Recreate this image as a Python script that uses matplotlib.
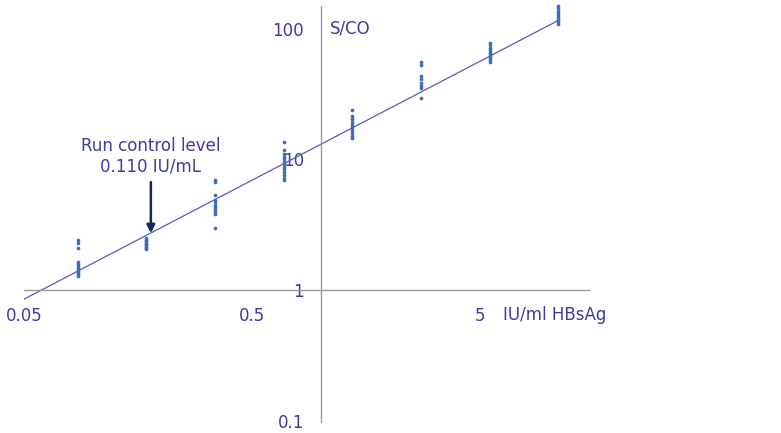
import matplotlib.pyplot as plt
from matplotlib.ticker import NullLocator, FixedLocator

# Data: HBsAg dilution groups (IU/ml) and measured S/CO values
conc = [0.086, 0.172, 0.344, 0.688, 1.375, 2.75, 5.5, 11.0]
sco = [
    [2.42, 2.30, 2.10, 1.65, 1.58, 1.52, 1.48, 1.44, 1.40, 1.36, 1.32, 1.27],
    [2.50, 2.42, 2.36, 2.30, 2.25, 2.20, 2.15, 2.10, 2.05],
    [7.0, 6.7, 5.3, 4.9, 4.7, 4.5, 4.3, 4.2, 4.0, 3.9, 3.8, 3.0],
    [13.6, 11.8, 11.0, 10.5, 10.0, 9.6, 9.2, 8.8, 8.4, 8.0, 7.6, 7.2, 6.9],
    [23.9, 21.5, 20.4, 19.4, 18.5, 17.6, 16.8, 16.0, 15.2, 14.5],
    [55.9, 53.0, 43.6, 41.0, 38.6, 36.5, 35.0, 29.6],
    [78, 75, 72, 69, 66, 64, 62, 60, 58, 56],
    [150, 144, 138, 133, 128, 124, 120, 116, 112, 109],
]
fit_x = [0.05, 11.0]
fit_y = [0.85, 116]
control_x = 0.18
control_y = [6.7, 2.72]

x_ticks = [0.05, 0.5, 5]
x_labels = ['0.05', '0.5', '5']
y_ticks = [0.1, 1, 10, 100]
y_labels = ['0.1', '1', '10', '100']

txt = '#3c3ca0'
plt.rcParams['font.family'] = ['DejaVu Sans']

fig = plt.figure(figsize=(7.81, 4.33), dpi=100, facecolor='white')
ax = fig.add_axes([0.0307, 0.0254, 0.7234, 0.961])
ax.set_xscale('log')
ax.set_yscale('log')
ax.set_xlim(0.05, 15.0)
ax.set_ylim(0.0974, 150)

# fitted line and replicate points
ax.plot(fit_x, fit_y, color='#5a5ab8', lw=0.9, zorder=2)
for x, ys in zip(conc, sco):
    ax.scatter([x] * len(ys), ys, s=7, color='#3f6cb8', zorder=3, clip_on=False,
               linewidths=0)

# axes crossing at (1, 1)
ax.spines['left'].set_position(('data', 1))
ax.spines['bottom'].set_position(('data', 1))
ax.spines['top'].set_visible(False)
ax.spines['right'].set_visible(False)
for s in ('left', 'bottom'):
    ax.spines[s].set_color('#9a9a9a')
    ax.spines[s].set_linewidth(1.0)

ax.xaxis.set_major_locator(FixedLocator(x_ticks))
ax.yaxis.set_major_locator(FixedLocator(y_ticks))
ax.set_xticklabels(x_labels)
ax.set_yticklabels(y_labels)
ax.xaxis.set_minor_locator(NullLocator())
ax.yaxis.set_minor_locator(NullLocator())
ax.tick_params(axis='x', length=0, pad=12, labelsize=12, labelcolor=txt)
ax.tick_params(axis='y', length=0, pad=12, labelsize=12, labelcolor=txt)

# axis titles
ax.text(1.1, 100, 'S/CO', fontsize=12, color=txt, ha='left', va='center')
ax.text(6.3, 0.75, 'IU/ml HBsAg', fontsize=12, color=txt, ha='left', va='top')

# run control annotation
ax.annotate('', xy=(control_x, control_y[1]), xytext=(control_x, control_y[0]),
            arrowprops=dict(arrowstyle='-|>', color='#16275c', lw=1.8,
                            mutation_scale=12, shrinkA=0, shrinkB=0))
ax.text(control_x, 12.6, 'Run control level', fontsize=12, color=txt,
        ha='center', va='center')
ax.text(control_x, 8.9, '0.110 IU/mL', fontsize=12, color=txt,
        ha='center', va='center')

fig.savefig('out.png', dpi=100)
